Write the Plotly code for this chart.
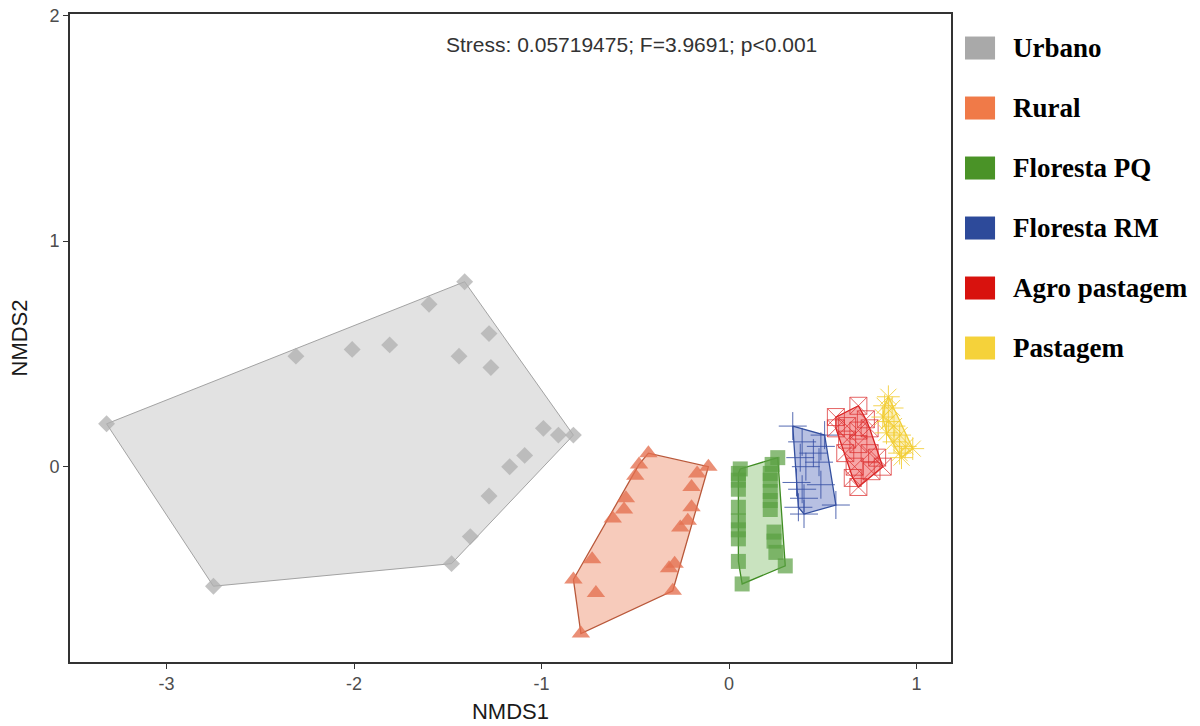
import plotly.graph_objects as go

# NMDS site scores by land-use class
groups = ["Urbano", "Rural", "Floresta PQ", "Floresta RM", "Agro pastagem", "Pastagem"]

urbano_x = [-3.32, -1.41, -1.60, -1.28, -1.81, -2.01, -2.31, -1.44, -1.27, -0.99,
            -0.91, -0.83, -1.09, -1.17, -1.28, -1.38, -1.48, -2.75]
urbano_y = [0.19, 0.82, 0.72, 0.59, 0.54, 0.52, 0.49, 0.49, 0.44, 0.17,
            0.14, 0.14, 0.05, 0.00, -0.13, -0.31, -0.43, -0.53]

rural_x = [-0.43, -0.48, -0.50, -0.11, -0.17, -0.20, -0.55, -0.56, -0.62, -0.20,
           -0.22, -0.26, -0.73, -0.29, -0.32, -0.83, -0.71, -0.30, -0.79]
rural_y = [0.06, 0.01, -0.04, 0.00, -0.03, -0.09, -0.14, -0.19, -0.23, -0.18,
           -0.24, -0.27, -0.41, -0.43, -0.45, -0.50, -0.56, -0.55, -0.74]

florestapq_x = [0.26, 0.23, 0.06, 0.05, 0.22, 0.22, 0.05, 0.05, 0.22, 0.22,
                0.22, 0.05, 0.05, 0.05, 0.05, 0.24, 0.24, 0.25, 0.05, 0.30, 0.07]
florestapq_y = [0.04, 0.01, -0.01, -0.03, -0.03, -0.06, -0.06, -0.10, -0.11, -0.15,
                -0.19, -0.18, -0.24, -0.28, -0.32, -0.29, -0.33, -0.38, -0.42, -0.44, -0.52]

florestarm_x = [0.34, 0.51, 0.39, 0.49, 0.45, 0.38, 0.48, 0.41, 0.36, 0.49,
                0.39, 0.40, 0.57, 0.37, 0.40]
florestarm_y = [0.18, 0.14, 0.11, 0.09, 0.06, 0.04, 0.02, 0.00, -0.07, -0.08,
                -0.10, -0.14, -0.17, -0.18, -0.21]

agro_x = [0.69, 0.57, 0.73, 0.57, 0.63, 0.69, 0.75, 0.63, 0.69, 0.75,
          0.62, 0.79, 0.82, 0.67, 0.76, 0.66, 0.69]
agro_y = [0.27, 0.22, 0.21, 0.17, 0.18, 0.16, 0.17, 0.12, 0.10, 0.06,
          0.06, 0.04, 0.00, 0.00, -0.02, -0.05, -0.09]

pastagem_x = [0.85, 0.83, 0.87, 0.82, 0.85, 0.88, 0.84, 0.91, 0.88, 0.94,
              0.98, 0.91, 0.92]
pastagem_y = [0.31, 0.27, 0.26, 0.22, 0.20, 0.18, 0.15, 0.14, 0.11, 0.09,
              0.08, 0.06, 0.04]

x_ticks = [-3, -2, -1, 0, 1]
x_tick_labels = ["-3", "-2", "-1", "0", "1"]
y_ticks = [0, 1, 2]
y_tick_labels = ["0", "1", "2"]
stats_label = "Stress: 0.05719475; F=3.9691; p<0.001"

data = {
    "Urbano": (urbano_x, urbano_y),
    "Rural": (rural_x, rural_y),
    "Floresta PQ": (florestapq_x, florestapq_y),
    "Floresta RM": (florestarm_x, florestarm_y),
    "Agro pastagem": (agro_x, agro_y),
    "Pastagem": (pastagem_x, pastagem_y),
}

# per-group styling: legend swatch, hull fill, hull edge, point colour, symbol, size
style = {
    "Urbano":        dict(key="#A9A9A9", fill="rgba(190,190,190,0.45)", edge="#9A9A9A",
                          pt="rgba(175,175,175,0.75)", sym="diamond", size=13, lw=0),
    "Rural":         dict(key="#F07A48", fill="rgba(238,140,105,0.45)", edge="#B9583A",
                          pt="rgba(228,112,80,0.78)", sym="triangle-up", size=16, lw=0),
    "Floresta PQ":   dict(key="#4A9327", fill="rgba(120,185,95,0.40)", edge="#3F8C22",
                          pt="rgba(90,160,65,0.70)", sym="square", size=15, lw=0),
    "Floresta RM":   dict(key="#2D4A9A", fill="rgba(95,115,190,0.45)", edge="#34509F",
                          pt="rgba(55,80,165,0.85)", sym="cross-thin", size=20, lw=1),
    "Agro pastagem": dict(key="#D8120E", fill="rgba(235,60,60,0.45)", edge="#D82020",
                          pt="rgba(220,50,50,0.75)", sym="square-x-open", size=17, lw=1),
    "Pastagem":      dict(key="#F5D23A", fill="rgba(245,215,80,0.40)", edge="#F0CF3A",
                          pt="rgba(242,205,50,0.85)", sym="asterisk-open", size=19, lw=1),
}


def convex_hull(xs, ys):
    pts = sorted(set(zip(xs, ys)))
    if len(pts) < 3:
        return pts

    def cross(o, a, b):
        return (a[0] - o[0]) * (b[1] - o[1]) - (a[1] - o[1]) * (b[0] - o[0])

    lower, upper = [], []
    for p in pts:
        while len(lower) >= 2 and cross(lower[-2], lower[-1], p) <= 0:
            lower.pop()
        lower.append(p)
    for p in reversed(pts):
        while len(upper) >= 2 and cross(upper[-2], upper[-1], p) <= 0:
            upper.pop()
        upper.append(p)
    return lower[:-1] + upper[:-1]


fig = go.Figure()

for g in groups:
    xs, ys = data[g]
    s = style[g]
    hull = convex_hull(xs, ys)
    hx = [p[0] for p in hull] + [hull[0][0]]
    hy = [p[1] for p in hull] + [hull[0][1]]
    fig.add_trace(go.Scatter(
        x=hx, y=hy, mode="lines", fill="toself", fillcolor=s["fill"],
        line=dict(color=s["edge"], width=1.3 if g != "Urbano" else 0.9),
        showlegend=False, hoverinfo="skip"))
    if s["lw"]:
        marker = dict(symbol=s["sym"], size=s["size"], color=s["pt"],
                      line=dict(color=s["pt"], width=s["lw"]))
    else:
        marker = dict(symbol=s["sym"], size=s["size"], color=s["pt"], line=dict(width=0))
    fig.add_trace(go.Scatter(x=xs, y=ys, mode="markers", marker=marker,
                             name=g, showlegend=False))

# legend drawn as swatches + bold serif labels to the right of the panel
shapes = []
annotations = []
row_top = 0.9475
row_step = 60 / 648
sw_h = 23 / 648
for i, g in enumerate(groups):
    yc = row_top - i * row_step
    shapes.append(dict(type="rect", xref="paper", yref="paper",
                       x0=1.0159, x1=1.0500, y0=yc - sw_h / 2, y1=yc + sw_h / 2,
                       fillcolor=style[g]["key"], line=dict(width=0)))
    annotations.append(dict(text=f"<b>{g}</b>", xref="paper", yref="paper",
                            x=1.0685, y=yc, xanchor="left", yanchor="middle",
                            showarrow=False,
                            font=dict(family="Liberation Serif", size=27, color="#000")))

annotations.append(dict(text=stats_label, x=-0.52, y=1.87, xref="x", yref="y",
                        showarrow=False, xanchor="center", yanchor="middle",
                        font=dict(family="Liberation Sans", size=21, color="#333")))

axis_common = dict(showgrid=False, zeroline=False, showline=True, mirror=True,
                   linecolor="#333", linewidth=1.6, ticks="outside", ticklen=5,
                   tickcolor="#333", tickwidth=1.3, automargin=False,
                   tickfont=dict(family="Liberation Sans", size=18, color="#4D4D4D"))

fig.update_layout(
    width=1200, height=726,
    margin=dict(l=70, r=249, t=14, b=64),
    paper_bgcolor="white", plot_bgcolor="white",
    xaxis=dict(range=[-3.515, 1.184], tickvals=x_ticks, ticktext=x_tick_labels,
               title=dict(text="NMDS1", standoff=10,
                          font=dict(family="Liberation Sans", size=22, color="#1a1a1a")),
               **axis_common),
    yaxis=dict(range=[-0.866, 2.007], tickvals=y_ticks, ticktext=y_tick_labels,
               title=dict(text="NMDS2", standoff=16,
                          font=dict(family="Liberation Sans", size=22, color="#1a1a1a")),
               **axis_common),
    shapes=shapes,
    annotations=annotations,
    showlegend=False,
)

fig.write_html("out.html")
